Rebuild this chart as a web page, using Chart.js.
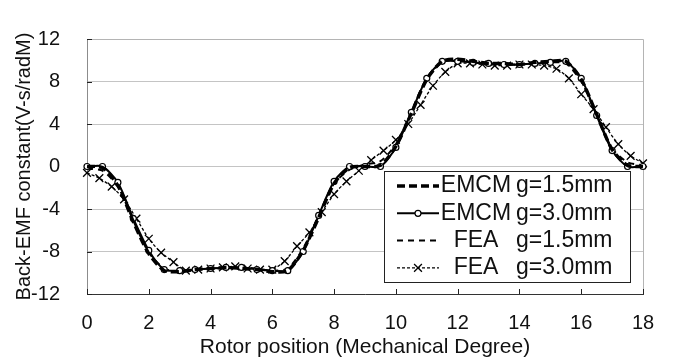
<!DOCTYPE html>
<html>
<head>
<meta charset="utf-8">
<script src="https://cdn.jsdelivr.net/npm/chart.js@4/dist/chart.umd.min.js"></script>
<style>
  html, body { margin: 0; padding: 0; background: #fff; }
</style>
</head>
<body>
<canvas id="myChart" width="675" height="362"></canvas>
<script>
// rotor position (deg) for the EMCM curves and the FEA g=1.5 curve
var xEmcm = [0, 0.5, 1, 1.5, 2, 2.5, 3, 3.5, 4, 4.5, 5, 5.5, 6, 6.5, 7, 7.5, 8, 8.5, 9,
    9.5, 10, 10.5, 11, 11.5, 12, 12.5, 13, 13.5, 14, 14.5, 15, 15.5, 16, 16.5, 17, 17.5, 18];
// rotor position for the FEA g=3.0 curve (the x markers)
var xFea30 = [0, 0.4, 0.8, 1.2, 1.6, 2, 2.4, 2.8, 3.2, 3.6, 4, 4.4, 4.8, 5.2, 5.6, 6, 6.4,
    6.8, 7.2, 7.6, 8, 8.4, 8.8, 9.2, 9.6, 10, 10.4, 10.8, 11.2, 11.6, 12, 12.4, 12.8, 13.2,
    13.6, 14, 14.4, 14.8, 15.2, 15.6, 16, 16.4, 16.8, 17.2, 17.6, 18];

var emcm15 = [0, -0.1, -1.8, -5.2, -8.2, -9.8, -9.9, -9.7, -9.6, -9.5, -9.6, -9.7, -9.9, -9.8,
    -7.9, -4.8, -1.6, -0.1, 0, 0.1, 1.9, 5.0, 8.2, 9.9, 10.1, 9.9, 9.7, 9.7, 9.6, 9.8, 9.9,
    9.9, 8.2, 4.9, 1.6, 0.1, 0];
var emcm30 = [0, 0, -1.5, -4.9, -7.9, -9.7, -9.8, -9.7, -9.6, -9.5, -9.5, -9.7, -9.8, -9.8,
    -8.0, -4.6, -1.4, 0, 0, 0, 1.8, 5.1, 8.3, 9.9, 9.9, 9.8, 9.7, 9.6, 9.6, 9.7, 9.8, 9.9,
    8.3, 4.8, 1.5, 0, 0];
var fea15 = [-0.2, -0.4, -1.9, -5.1, -8.1, -9.6, -9.9, -9.7, -9.6, -9.6, -9.5, -9.6, -9.8,
    -9.6, -7.7, -4.6, -1.6, -0.3, 0.2, 0.5, 2.1, 5.2, 8.3, 9.8, 10.0, 9.8, 9.6, 9.6, 9.6, 9.7,
    9.8, 9.7, 8.0, 4.9, 1.7, 0.4, 0.1];
var fea30 = [-0.6, -1.1, -1.9, -3.1, -4.9, -6.8, -8.1, -9.0, -9.8, -9.7, -9.6, -9.5, -9.4,
    -9.6, -9.7, -9.7, -8.9, -7.5, -6.2, -4.3, -2.6, -1.4, -0.4, 0.6, 1.5, 2.5, 4.0, 5.8, 7.6,
    8.9, 9.7, 9.7, 9.6, 9.5, 9.5, 9.6, 9.6, 9.5, 9.2, 8.3, 6.8, 5.4, 3.7, 2.1, 1.0, 0.3];

// legend text is split in two columns like in the figure
var legendMethod = ['EMCM', 'EMCM', 'FEA', 'FEA'];
var legendGap = ['g=1.5mm', 'g=3.0mm', 'g=1.5mm', 'g=3.0mm'];

var xTitle = 'Rotor position (Mechanical Degree)';
var yTitle = 'Back-EMF constant(V-s/radM)';

var FONT = '"Liberation Sans", Arial, sans-serif';
var INK = '#111';

function pairs(xs, ys) {
    var out = [];
    for (var i = 0; i < xs.length; i++) out.push({x: xs[i], y: ys[i]});
    return out;
}

// frame + inner tick marks
var frame = {
    id: 'frame',
    beforeDatasetsDraw: function(chart) {
        var ctx = chart.ctx, a = chart.chartArea;
        ctx.save();
        ctx.lineWidth = 1;
        // top and right border
        ctx.strokeStyle = '#b4b4b4';
        ctx.beginPath();
        ctx.moveTo(a.left, a.top + 0.5);
        ctx.lineTo(a.right + 0.5, a.top + 0.5);
        ctx.lineTo(a.right + 0.5, a.bottom);
        ctx.stroke();
        // left axis
        ctx.strokeStyle = '#8c8c8c';
        ctx.beginPath();
        ctx.moveTo(a.left + 0.5, a.top);
        ctx.lineTo(a.left + 0.5, a.bottom);
        ctx.stroke();
        // bottom axis
        ctx.strokeStyle = '#333';
        ctx.beginPath();
        ctx.moveTo(a.left, a.bottom + 0.5);
        ctx.lineTo(a.right + 1, a.bottom + 0.5);
        ctx.stroke();
        // inner ticks
        ctx.strokeStyle = '#222';
        ctx.beginPath();
        chart.scales.x.ticks.forEach(function(t) {
            var px = Math.round(chart.scales.x.getPixelForValue(t.value)) + 0.5;
            ctx.moveTo(px, a.bottom);
            ctx.lineTo(px, a.bottom - 5);
        });
        chart.scales.y.ticks.forEach(function(t) {
            var py = Math.round(chart.scales.y.getPixelForValue(t.value)) + 0.5;
            ctx.moveTo(a.left, py);
            ctx.lineTo(a.left + 5, py);
        });
        ctx.stroke();
        ctx.restore();
    }
};

function drawMarker(ctx, ds, x, y) {
    if (!ds.pointRadius) return;
    ctx.save();
    ctx.setLineDash([]);
    ctx.lineWidth = ds.pointBorderWidth || 1;
    ctx.strokeStyle = '#000';
    ctx.fillStyle = '#fff';
    var r = ds.pointRadius;
    ctx.beginPath();
    if (ds.pointStyle === 'circle') {
        ctx.arc(x, y, r, 0, Math.PI * 2);
        ctx.fill();
    } else {
        var d = r * 0.71;
        ctx.moveTo(x - d, y - d); ctx.lineTo(x + d, y + d);
        ctx.moveTo(x + d, y - d); ctx.lineTo(x - d, y + d);
    }
    ctx.stroke();
    ctx.restore();
}

// boxed legend drawn by hand
var legendBox = {
    id: 'legendBox',
    afterDraw: function(chart) {
        var ctx = chart.ctx;
        var bx = 384.5, by = 171.5, bw = 246, bh = 111;
        ctx.save();
        ctx.fillStyle = '#fff';
        ctx.fillRect(bx, by, bw, bh);
        ctx.strokeStyle = '#222';
        ctx.lineWidth = 1;
        ctx.strokeRect(bx, by, bw, bh);

        ctx.font = '23px ' + FONT;
        ctx.textBaseline = 'middle';
        ctx.fillStyle = INK;
        chart.data.datasets.forEach(function(ds, i) {
            var y = 186 + i * 27.3;
            ctx.save();
            ctx.strokeStyle = '#000';
            ctx.lineWidth = ds.borderWidth;
            ctx.setLineDash(ds.borderDash || []);
            ctx.beginPath();
            ctx.moveTo(397, y);
            ctx.lineTo(439, y);
            ctx.stroke();
            ctx.restore();
            drawMarker(ctx, ds, 418, y);
            ctx.textAlign = 'center';
            ctx.fillText(legendMethod[i], 476, y);
            ctx.textAlign = 'left';
            ctx.fillText(legendGap[i], 516, y);
        });
        ctx.restore();
    }
};

var ctx = document.getElementById('myChart').getContext('2d');
var chart = new Chart(ctx, {
    type: 'line',
    data: {
        datasets: [{
            label: legendMethod[0] + ' ' + legendGap[0],
            data: pairs(xEmcm, emcm15),
            borderColor: '#000',
            borderWidth: 3.4,
            borderDash: [8, 4],
            pointRadius: 0,
            tension: 0.25,
            clip: 6
        }, {
            label: legendMethod[1] + ' ' + legendGap[1],
            data: pairs(xEmcm, emcm30),
            borderColor: '#000',
            borderWidth: 2,
            pointStyle: 'circle',
            pointRadius: 3,
            pointBorderWidth: 1.2,
            pointBackgroundColor: '#fff',
            pointBorderColor: '#000',
            tension: 0.25,
            clip: 6
        }, {
            label: legendMethod[2] + ' ' + legendGap[2],
            data: pairs(xEmcm, fea15),
            borderColor: '#000',
            borderWidth: 2,
            borderDash: [6, 5],
            pointRadius: 0,
            tension: 0.25,
            clip: 6
        }, {
            label: legendMethod[3] + ' ' + legendGap[3],
            data: pairs(xFea30, fea30),
            borderColor: '#000',
            borderWidth: 1.3,
            borderDash: [3, 2],
            pointStyle: 'crossRot',
            pointRadius: 5.5,
            pointBorderWidth: 1.3,
            pointBorderColor: '#000',
            tension: 0.25,
            clip: 6
        }]
    },
    options: {
        responsive: false,
        animation: false,
        devicePixelRatio: 1,
        layout: { padding: { top: 12, right: 32, left: 0, bottom: 0 } },
        plugins: {
            legend: { display: false },
            tooltip: { enabled: false }
        },
        scales: {
            x: {
                type: 'linear',
                min: 0,
                max: 18,
                afterFit: function(s) { s.height = 68; },
                grid: { display: false, drawTicks: false },
                border: { display: false },
                ticks: {
                    stepSize: 2,
                    padding: 17,
                    color: INK,
                    font: { family: FONT, size: 20 }
                },
                title: {
                    display: true,
                    text: xTitle,
                    color: INK,
                    padding: { top: 0, bottom: 2 },
                    font: { family: FONT, size: 21 }
                }
            },
            y: {
                min: -12,
                max: 12,
                afterFit: function(s) { s.width = 87; },
                grid: { color: '#c4c4c4', drawTicks: false, lineWidth: 1 },
                border: { display: false },
                ticks: {
                    stepSize: 4,
                    padding: 27,
                    color: INK,
                    font: { family: FONT, size: 20 }
                },
                title: {
                    display: true,
                    text: yTitle,
                    color: INK,
                    padding: { top: 12, bottom: 0 },
                    font: { family: FONT, size: 20 }
                }
            }
        }
    },
    plugins: [frame, legendBox]
});
</script>
</body>
</html>
